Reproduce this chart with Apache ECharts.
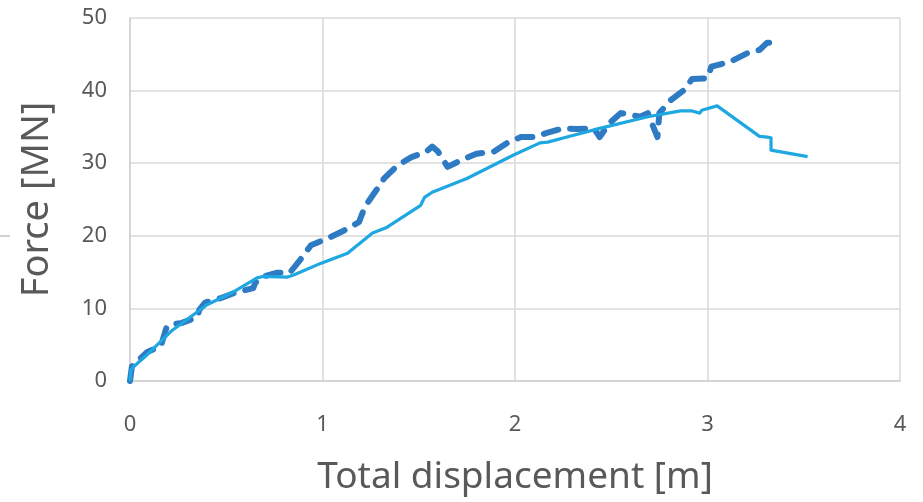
<!DOCTYPE html>
<html>
<head>
<meta charset="utf-8">
<script src="https://cdn.jsdelivr.net/npm/echarts@6/dist/echarts.min.js"></script>
<style>html,body{margin:0;padding:0;background:#fff}#c{width:923px;height:502px}</style>
</head>
<body>
<div id="c"></div>
<script>
const xTicks = [0, 1, 2, 3, 4];
const yTicks = [0, 10, 20, 30, 40, 50];

const dashedX = [0.00,0.01,0.09,0.16,0.19,0.21,0.27,0.35,0.36,0.39,0.47,0.54,0.64,0.65,0.68,0.76,0.83,0.89,0.94,1.04,1.11,1.19,1.22,1.28,1.32,1.39,1.46,1.54,1.57,1.60,1.65,1.72,1.80,1.89,1.96,2.03,2.10,2.17,2.25,2.32,2.41,2.44,2.49,2.55,2.65,2.69,2.74,2.75,2.81,2.88,2.92,3.00,3.02,3.12,3.21,3.27,3.31,3.32];
const dashedY = [0.0,2.0,4.0,4.8,7.4,7.8,8.0,8.8,9.8,10.8,11.4,12.1,12.8,13.5,14.3,14.9,14.9,16.9,18.7,19.8,20.7,21.9,24.0,26.3,27.9,29.7,30.8,31.6,32.3,31.6,29.5,30.4,31.3,31.6,32.8,33.6,33.6,34.2,34.8,34.7,34.8,33.6,35.5,36.9,36.4,36.9,33.6,36.9,38.7,40.1,41.6,41.7,43.3,44.0,45.2,45.6,46.6,46.6];

const solidX = [0.00,0.005,0.02,0.08,0.22,0.40,0.54,0.66,0.69,0.815,0.85,0.99,1.13,1.26,1.33,1.51,1.53,1.57,1.75,1.99,2.13,2.17,2.27,2.44,2.69,2.86,2.92,2.96,2.97,3.05,3.27,3.31,3.33,3.33,3.52];
const solidY = [0.0,1.5,2.0,3.4,7.0,10.5,12.3,14.2,14.4,14.3,14.6,16.2,17.6,20.4,21.1,24.2,25.3,26.0,27.9,31.1,32.8,32.9,33.6,34.8,36.4,37.2,37.2,36.9,37.3,37.9,33.7,33.6,33.5,31.8,30.9];

const zip = (xs, ys) => xs.map((x, i) => [x, ys[i]]);

const chart = echarts.init(document.getElementById('c'));
const font = '"Noto Sans", "Open Sans", sans-serif';
chart.setOption({
  animation: false,
  grid: { left: 130, right: 23, top: 18, bottom: 121, containLabel: false },
  xAxis: {
    type: 'value', min: xTicks[0], max: xTicks[xTicks.length - 1], interval: 1,
    name: 'Total displacement [m]', nameLocation: 'middle', nameGap: 78,
    nameTextStyle: { fontSize: 37, color: '#595959', fontFamily: font },
    axisLine: { show: true, lineStyle: { color: '#d0d0d0', width: 1.5 } },
    axisTick: { show: false },
    axisLabel: { fontSize: 22, color: '#595959', margin: 33, fontFamily: font },
    splitLine: { show: true, lineStyle: { color: '#d9d9d9', width: 1.5 } }
  },
  yAxis: {
    type: 'value', min: yTicks[0], max: yTicks[yTicks.length - 1], interval: 10,
    name: 'Force [MN]', nameLocation: 'middle', nameGap: 74, nameRotate: 90,
    nameTextStyle: { fontSize: 38, color: '#595959', fontFamily: font },
    axisLine: { show: true, lineStyle: { color: '#d0d0d0', width: 1.5 } },
    axisTick: { show: false },
    axisLabel: { fontSize: 22, color: '#595959', margin: 23, fontFamily: font },
    splitLine: { show: true, lineStyle: { color: '#d9d9d9', width: 1.5 } }
  },
  graphic: [{
    type: 'line', shape: { x1: 0, y1: 236, x2: 10, y2: 236 },
    style: { stroke: '#a6a6a6', lineWidth: 1 }
  }],
  series: [
    {
      type: 'line', data: zip(dashedX, dashedY), showSymbol: false,
      lineStyle: { color: '#2E7BC4', width: 6, type: [15, 12], cap: 'round', join: 'round' }
    },
    {
      type: 'line', data: zip(solidX, solidY), showSymbol: false,
      lineStyle: { color: '#1EA7E1', width: 3.2, join: 'round' }
    }
  ]
});
</script>
</body>
</html>
